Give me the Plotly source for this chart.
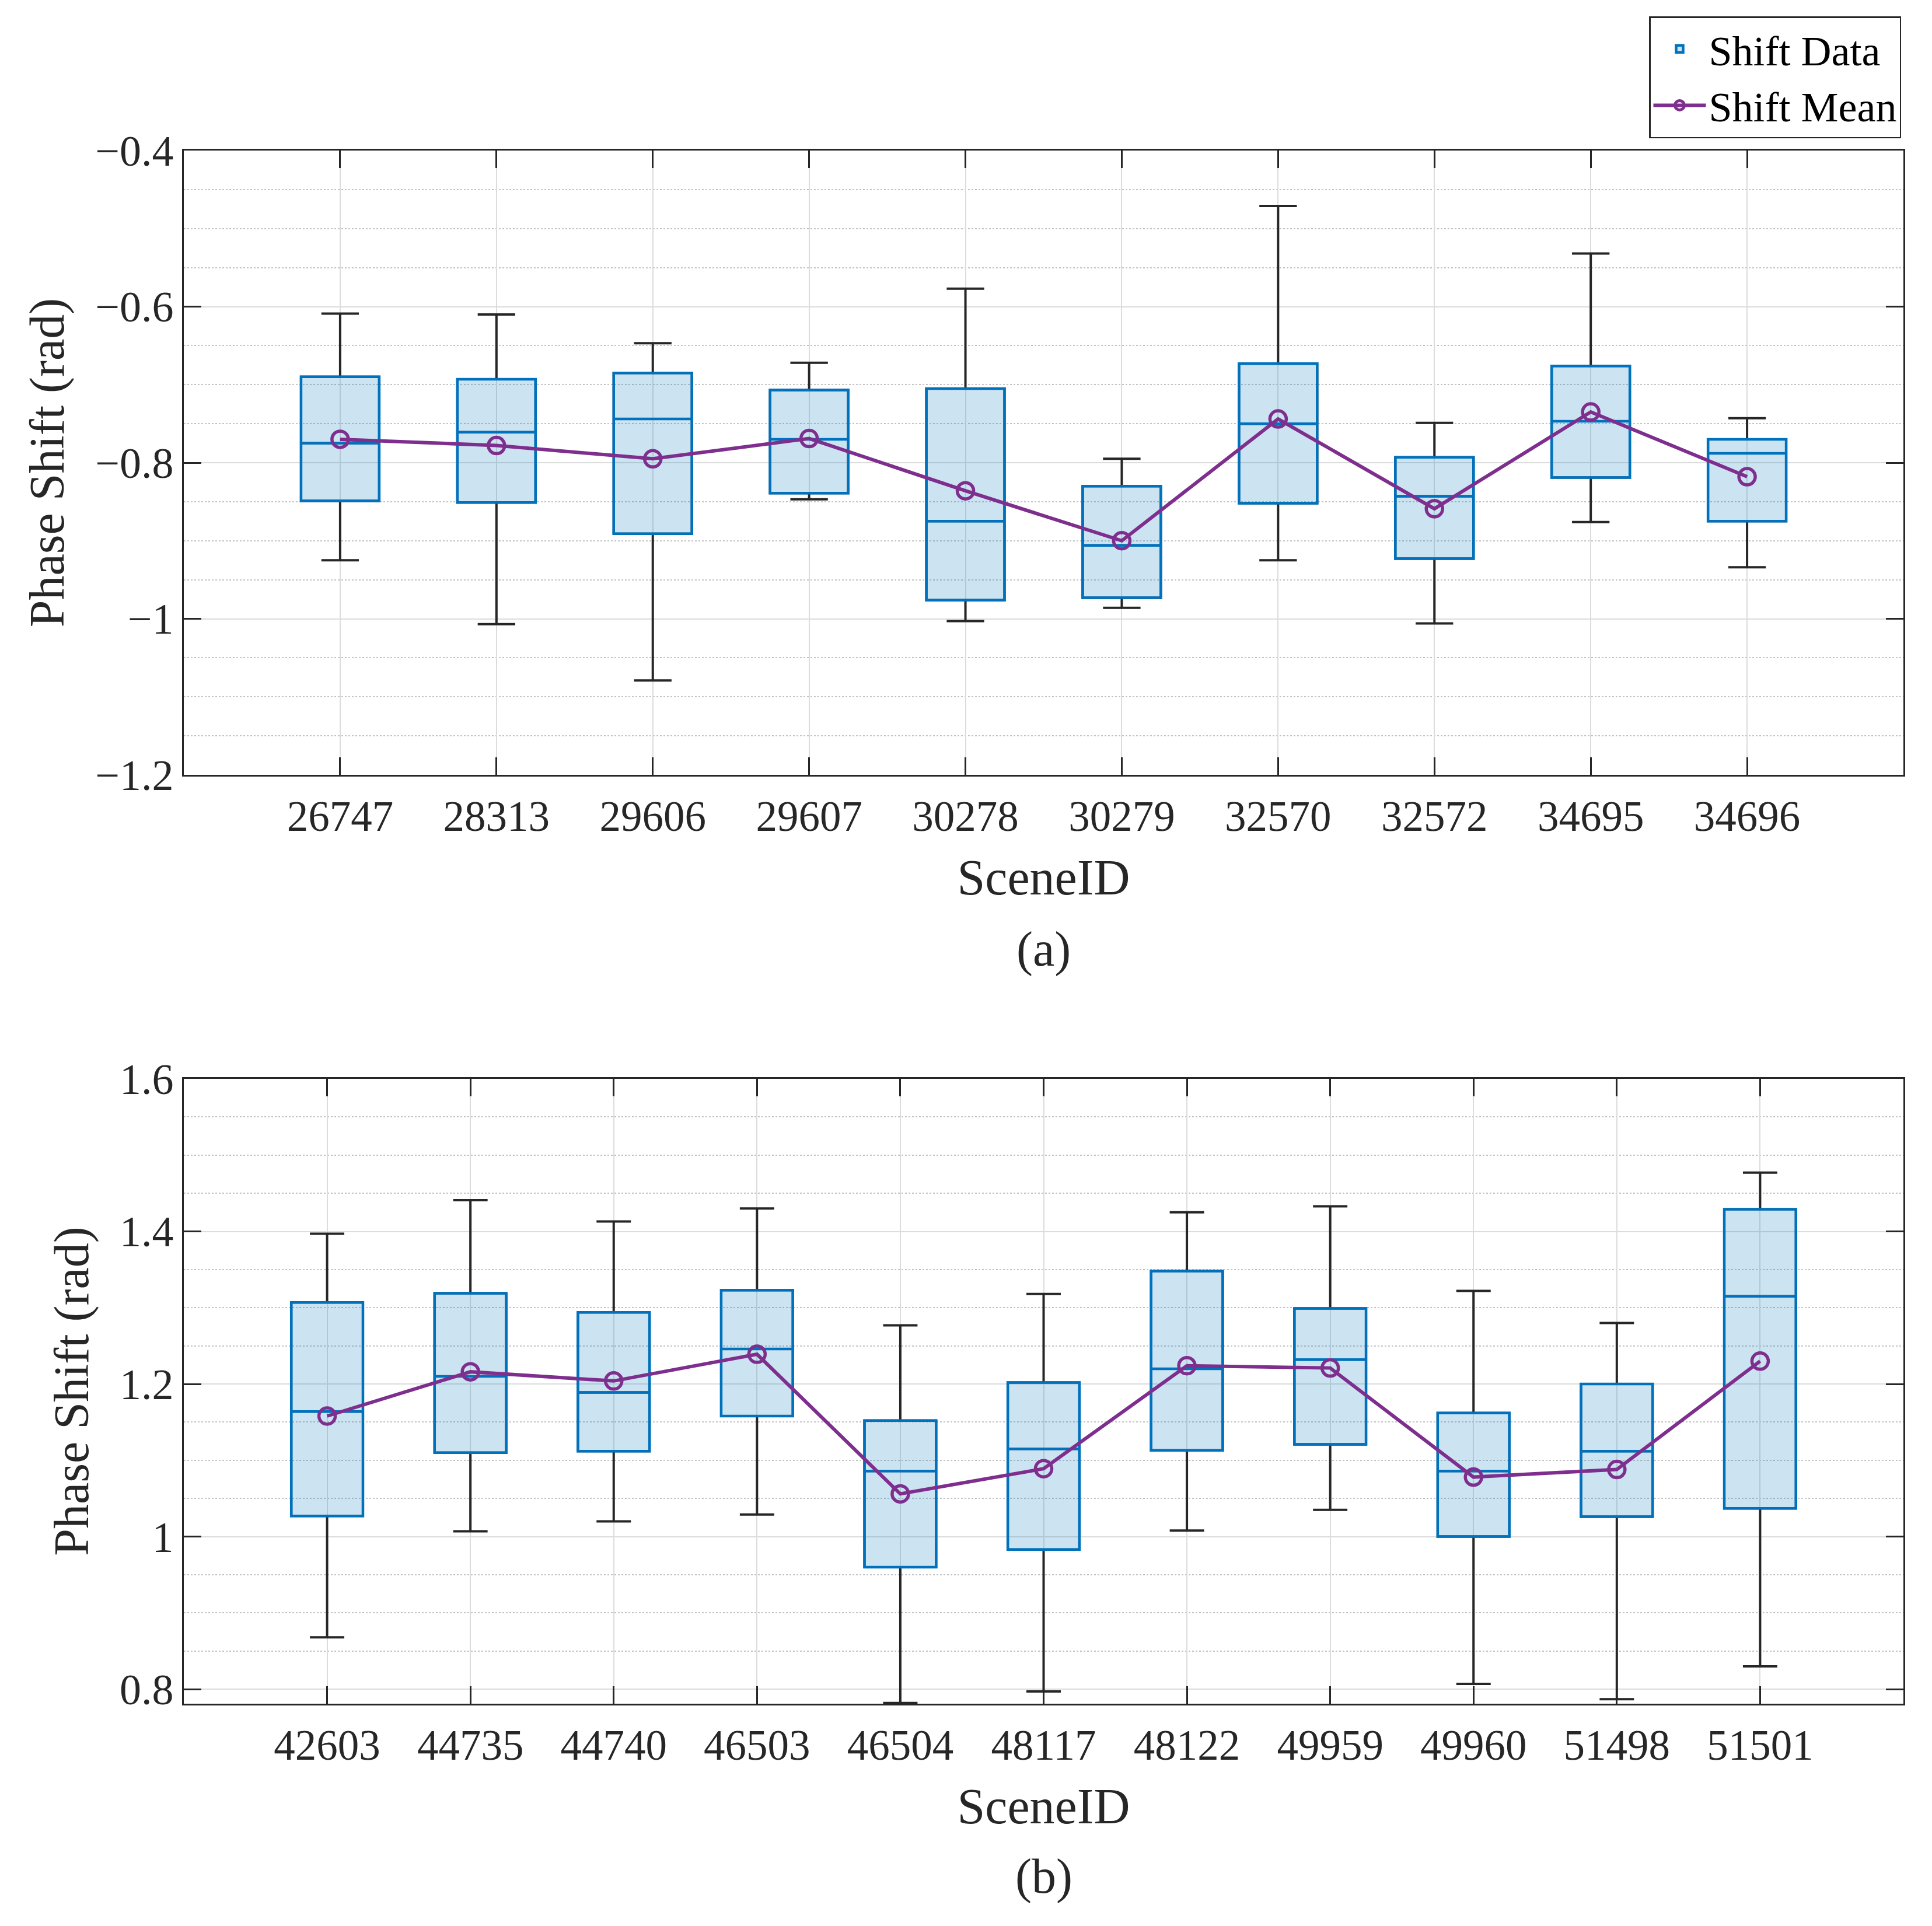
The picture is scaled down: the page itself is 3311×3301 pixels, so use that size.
import plotly.graph_objects as go

# ---------------- data ----------------
top_ids = ["26747", "28313", "29606", "29607", "30278", "30279", "32570", "32572", "34695", "34696"]
top_lower = [-0.925, -1.007, -1.079, -0.847, -1.003, -0.986, -0.925, -1.006, -0.876, -0.934]
top_q1 = [-0.849, -0.851, -0.891, -0.839, -0.976, -0.973, -0.852, -0.923, -0.819, -0.875]
top_median = [-0.775, -0.761, -0.744, -0.770, -0.875, -0.906, -0.750, -0.843, -0.747, -0.788]
top_q3 = [-0.690, -0.693, -0.685, -0.707, -0.705, -0.830, -0.673, -0.793, -0.676, -0.770]
top_upper = [-0.609, -0.610, -0.647, -0.672, -0.577, -0.795, -0.471, -0.749, -0.532, -0.743]
top_mean = [-0.770, -0.778, -0.795, -0.769, -0.836, -0.900, -0.744, -0.859, -0.735, -0.818]

bot_ids = ["42603", "44735", "44740", "46503", "46504", "48117", "48122", "49959", "49960", "51498", "51501"]
bot_lower = [0.868, 1.007, 1.020, 1.029, 0.782, 0.797, 1.008, 1.035, 0.807, 0.787, 0.830]
bot_q1 = [1.027, 1.110, 1.112, 1.158, 0.960, 0.983, 1.113, 1.121, 1.000, 1.026, 1.037]
bot_median = [1.164, 1.210, 1.189, 1.246, 1.086, 1.115, 1.220, 1.232, 1.086, 1.112, 1.315]
bot_q3 = [1.307, 1.319, 1.294, 1.323, 1.152, 1.202, 1.348, 1.299, 1.162, 1.200, 1.429]
bot_upper = [1.397, 1.441, 1.413, 1.430, 1.277, 1.318, 1.425, 1.433, 1.322, 1.280, 1.477]
bot_mean = [1.158, 1.216, 1.204, 1.239, 1.056, 1.089, 1.224, 1.221, 1.078, 1.088, 1.230]

top_yticks = [-1.2, -1.0, -0.8, -0.6, -0.4]
bot_yticks = [0.8, 1.0, 1.2, 1.4, 1.6]

# ---------------- style ----------------
FONT = "Liberation Serif"
AX = "#262626"
BLUE = "#0072BD"
FILL = "rgba(0,114,189,0.2)"
PURPLE = "#7E2F8E"
W, H = 3311, 3301

fig = go.Figure()


def add_panel(ids, lower, q1, med, q3, upper, mean, xa, ya, legend):
    pos = list(range(1, len(ids) + 1))
    # whiskers (black) drawn first
    fig.add_trace(go.Box(
        x=pos, q1=q1, median=med, q3=q3, lowerfence=lower, upperfence=upper,
        width=0.5, whiskerwidth=0.48, boxpoints=False,
        line=dict(color=AX, width=4), fillcolor="rgba(0,0,0,0)",
        xaxis=xa, yaxis=ya, showlegend=False, hoverinfo="skip"))
    # blue boxes on top
    fig.add_trace(go.Box(
        x=pos, q1=q1, median=med, q3=q3, lowerfence=q1, upperfence=q3,
        width=0.5, whiskerwidth=0, boxpoints=False,
        line=dict(color=BLUE, width=4.5), fillcolor=FILL,
        name="Shift Data", legendgroup="data",
        xaxis=xa, yaxis=ya, showlegend=legend))
    fig.add_trace(go.Scatter(
        x=pos, y=mean, mode="lines+markers", name="Shift Mean", legendgroup="mean",
        line=dict(color=PURPLE, width=6),
        marker=dict(symbol="circle-open", size=28, color=PURPLE, line=dict(width=5.5)),
        xaxis=xa, yaxis=ya, showlegend=legend))


add_panel(top_ids, top_lower, top_q1, top_median, top_q3, top_upper, top_mean, "x", "y", True)
add_panel(bot_ids, bot_lower, bot_q1, bot_median, bot_q3, bot_upper, bot_mean, "x2", "y2", False)


def xaxis(ids, domain_anchor):
    return dict(
        anchor=domain_anchor, domain=[0, 1],
        range=[0, len(ids) + 1], tickmode="array",
        tickvals=list(range(1, len(ids) + 1)), ticktext=ids,
        ticks="inside", ticklen=30, tickwidth=2.5, tickcolor=AX,
        showline=True, linecolor=AX, linewidth=2.5, mirror="ticks",
        showgrid=True, gridcolor="#dcdcdc", gridwidth=2, zeroline=False,
        tickfont=dict(family=FONT, size=73, color=AX),
        ticklabelstandoff=6,
        title=dict(text="SceneID", font=dict(family=FONT, size=86, color=AX), standoff=34),
    )


def yaxis(rng, ticks, dom, anchor):
    return dict(
        anchor=anchor, domain=dom, range=rng,
        tickmode="array", tickvals=ticks, ticktext=[("−" if t < 0 else "") + ("%g" % abs(t)) for t in ticks],
        ticks="inside", ticklen=30, tickwidth=2.5, tickcolor=AX,
        showline=True, linecolor=AX, linewidth=2.5, mirror="ticks",
        showgrid=True, gridcolor="#dcdcdc", gridwidth=2, zeroline=False,
        minor=dict(dtick=0.05, tick0=0, showgrid=True, gridcolor="#c4c4c4",
                   griddash="dot", gridwidth=2, ticks=""),
        tickfont=dict(family=FONT, size=74, color=AX),
        title=dict(text="Phase Shift (rad)", font=dict(family=FONT, size=84, color=AX), standoff=26),
    )


L, R, T, B = 315, 3311 - 3262, 258, 3301 - 2920
ph = H - T - B

fig.update_layout(
    width=W, height=H,
    margin=dict(l=L, r=R, t=T, b=B, pad=0),
    paper_bgcolor="white", plot_bgcolor="white",
    boxmode="overlay",
    font=dict(family=FONT, color=AX),
    xaxis=xaxis(top_ids, "y"),
    yaxis=yaxis([-1.2, -0.4], top_yticks, [1 - 1070 / ph, 1], "x"),
    xaxis2=xaxis(bot_ids, "y2"),
    yaxis2=yaxis([0.781, 1.6], bot_yticks, [0, 1071 / ph], "x2"),
    legend=dict(
        x=(3258 - L) / (W - L - R), y=(H - B - 28) / ph, xanchor="right", yanchor="top",
        bgcolor="white", bordercolor=AX, borderwidth=2.5,
        font=dict(family=FONT, size=72, color="black"),
        itemwidth=90, tracegroupgap=0,
    ),
    annotations=[
        dict(text="(a)", x=0.5, y=(H - B - 1627) / ph, xref="paper", yref="paper",
             xanchor="center", yanchor="middle",
             showarrow=False, font=dict(family=FONT, size=84, color=AX)),
        dict(text="(b)", x=0.5, y=(H - B - 3216) / ph, xref="paper", yref="paper",
             xanchor="center", yanchor="middle",
             showarrow=False, font=dict(family=FONT, size=84, color=AX)),
    ],
)

fig.write_html("out.html", config={"displayModeBar": False},
               post_script="document.body.style.margin='0';")
